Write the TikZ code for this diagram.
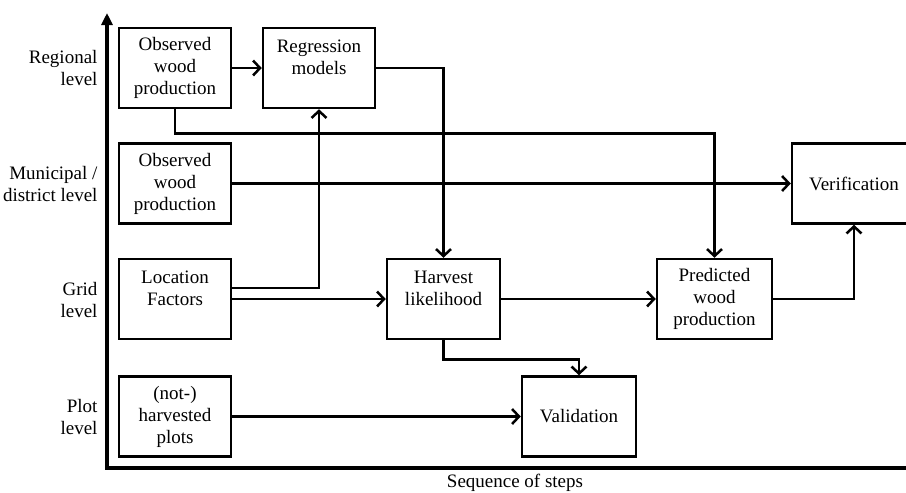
\documentclass[tikz,border=0pt]{standalone}
\usepackage{fontspec}
\setmainfont{Liberation Serif}
\usetikzlibrary{arrows.meta}

\begin{document}
\begin{tikzpicture}[
    x=1pt, y=-1pt,
    font=\fontsize{19}{22}\selectfont,
    box/.style={draw, line width=2.5pt, minimum width=112pt, minimum height=80pt,
      inner sep=0pt, align=center},
    lvl/.style={anchor=east, align=right},
    flow/.style={line width=2.5pt, -{Straight Barb[length=7pt,width=15pt]}},
    axis/.style={line width=3.5pt}
  ]
        \useasboundingbox (0,0) rectangle (906,493);

        % axes
        \draw [axis,{Triangle[length=12pt,width=11pt]}-]
          (107,13)
          -- (107,468)
          -- (920,468)
        ;
        \node [anchor=base] (xlabel) at (515,487) {Sequence of steps};

        % levels
        \node [lvl] (lregional) at (101,68) {Regional\\level};
        \node [lvl] (lmunicipal) at (101,184) {Municipal /\\district level};
        \node [lvl] (lgrid) at (101,300) {Grid\\level};
        \node [lvl] (lplot) at (101,417) {Plot\\level};

        % boxes
        \node [box] (obsreg) at (175,68) {Observed\\wood\\production};
        \node [box] (regmod) at (319,68) {Regression\\models\\\mbox{}};
        \node [box] (obsmun) at (175,183.5) {Observed\\wood\\production};
        \node [box,minimum width=124pt] (verif) at (854,183.5) {Verification};
        \node [box] (locfac) at (175,299) {Location\\Factors\\\mbox{}};
        \node [box,minimum width=113pt] (harvest) at (443.5,299) {Harvest\\likelihood\\\mbox{}};
        \node [box,minimum width=115pt] (predict) at (714.5,299) {Predicted\\wood\\production};
        \node [box] (plots) at (175,416.5) {(not-)\\harvested\\plots};
        \node [box,minimum width=114pt] (valid) at (579,416.5) {Validation};

        % flows
        \draw [flow]
          (obsreg.east)
          -- (regmod.west)
        ;
        \draw [flow]
          (regmod.east)
          -| (harvest.north)
        ;
        \draw [flow]
          (obsreg.south)
          -- ++(0,24)
          -| (predict.north)
        ;
        \draw [flow]
          (obsmun.east)
          -- (verif.west)
        ;
        \draw [flow]
          ([yshift=11pt]locfac.east)
          -| (regmod.south)
        ;
        \draw [flow]
          (locfac.east)
          -- (harvest.west)
        ;
        \draw [flow]
          (harvest.east)
          -- (predict.west)
        ;
        \draw [flow]
          (predict.east)
          -| (verif.south)
        ;
        \draw [flow]
          (harvest.south)
          -- ++(0,19)
          -| (valid.north)
        ;
        \draw [flow]
          (plots.east)
          -- (valid.west)
        ;
\end{tikzpicture}
\end{document}
